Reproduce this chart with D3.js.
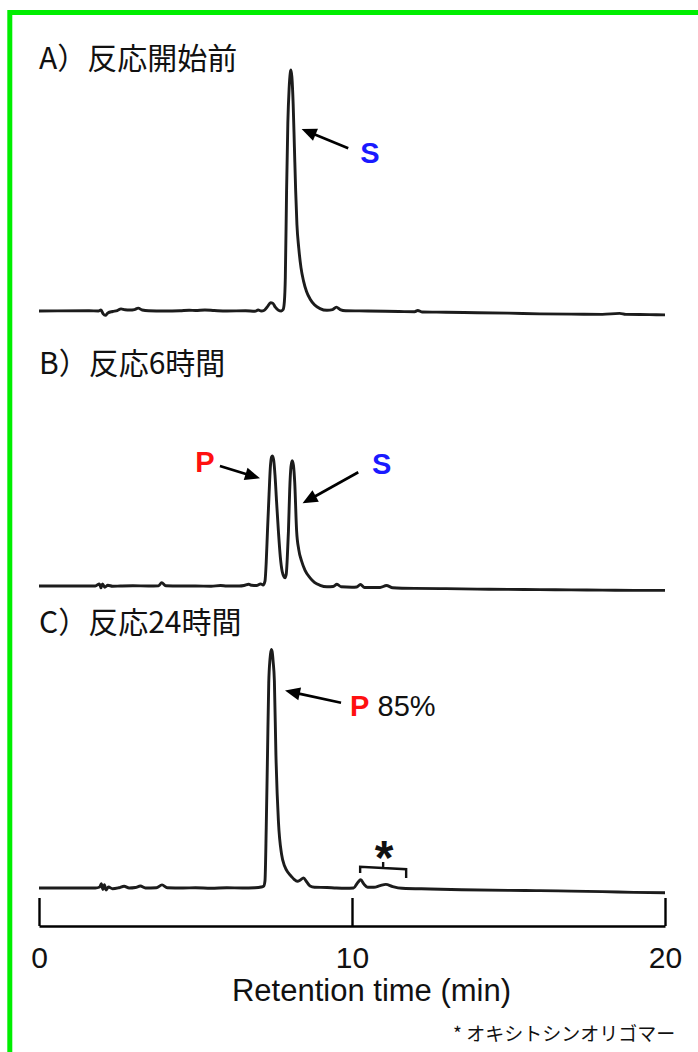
<!DOCTYPE html>
<html><head><meta charset="utf-8">
<script src="https://cdn.jsdelivr.net/npm/d3@7"></script>
<style>html,body{margin:0;padding:0;background:#fff;} svg{display:block}</style>
</head><body>
<script>
// ---------- DATA ----------
const panelTitles = ["A）反応開始前", "B）反応6時間", "C）反応24時間"];
const xTicks = [0, 10, 20];
const axisTitle = "Retention time (min)";
const footnote = "* オキシトシンオリゴマー";

// [retention time (min), signal (relative, A main peak = 100)]
const traceA = [[0,0],[1.6,0.1],[1.9,0],[1.98,0.4],[2.05,-1.2],[2.12,-1.8],[2.2,-0.8],[2.35,-0.2],[2.5,0.2],[2.62,0.9],[2.75,0.5],[2.9,0.4],[3.05,0.6],[3.17,1.2],[3.3,0.4],[3.5,0.1],[4.0,0],[4.5,0.1],[4.8,0.3],[5.0,0.2],[5.3,0.4],[5.6,0.2],[6.0,0],[6.6,0.1],[6.9,-0.1],[7.0,0.4],[7.1,0.0],[7.2,0.3],[7.3,1.8],[7.4,3.4],[7.47,3.2],[7.55,1.6],[7.65,0.3],[7.74,0.0],[7.8,0.6],[7.84,4],[7.87,14],[7.91,50],[7.95,78],[7.99,92],[8.03,99],[8.05,100],[8.08,97],[8.12,86],[8.16,68],[8.2,50],[8.24,36],[8.3,26],[8.37,18],[8.45,12.5],[8.55,8],[8.66,5],[8.8,2.6],[8.98,1],[9.2,0.3],[9.38,0.6],[9.5,1.6],[9.62,0.6],[9.8,0.1],[10.5,0],[11.5,-0.2],[12.0,-0.3],[12.1,0.2],[12.25,-0.4],[13,-0.5],[14,-0.7],[15,-0.9],[16,-1.2],[17,-1.3],[18,-1.4],[18.55,-1.0],[18.75,-1.4],[19.5,-1.5],[20,-1.6]];

const traceB = [[0,0],[1.8,0],[1.93,0.9],[1.98,-0.7],[2.03,0.9],[2.1,-0.5],[2.2,0.3],[2.35,-0.1],[2.6,0],[3.0,0.1],[3.5,0],[3.82,0.1],[3.92,1.4],[4.05,0.1],[4.5,0],[5.0,0],[5.5,-0.1],[5.8,0.2],[6.0,0],[6.4,0],[6.55,0.2],[6.7,0.7],[6.8,0.3],[6.95,0.2],[7.08,0.9],[7.16,0.4],[7.22,2],[7.26,10],[7.30,23],[7.35,38],[7.39,49],[7.43,53.5],[7.46,54],[7.50,52],[7.54,46],[7.59,35],[7.65,22.5],[7.71,12],[7.77,6],[7.82,4],[7.86,3.4],[7.9,5],[7.93,11],[7.97,23],[8.01,40],[8.05,49.5],[8.09,52],[8.13,50],[8.17,43],[8.23,23],[8.3,15],[8.39,10.3],[8.5,6.5],[8.66,3.4],[8.8,1.5],[8.98,0.3],[9.2,-0.3],[9.4,-0.2],[9.52,0.7],[9.65,-0.3],[10.0,-0.5],[10.15,-0.4],[10.27,0.6],[10.4,-0.6],[10.9,-0.6],[11.1,0.2],[11.3,-0.7],[12,-1.0],[13,-1.1],[14,-1.3],[15,-1.4],[16,-1.5],[17,-1.6],[18,-1.7],[19,-1.8],[20,-1.8]];

const traceC = [[0,0],[1.8,0],[1.94,0.4],[1.99,1.8],[2.04,-0.6],[2.09,1.4],[2.14,-0.8],[2.22,0.4],[2.35,-0.3],[2.55,0.1],[2.72,0.7],[2.88,0],[3.08,0.2],[3.24,0.8],[3.4,0],[3.75,0.1],[3.93,1.3],[4.1,0.1],[4.6,0],[5.0,0.1],[5.5,-0.1],[6.0,0.1],[6.5,0],[6.9,0.1],[7.1,0.4],[7.18,0.8],[7.22,3],[7.26,25],[7.30,55],[7.34,85],[7.38,95],[7.42,99],[7.45,98],[7.48,94],[7.52,86],[7.57,55],[7.65,27.5],[7.75,14],[7.85,9],[7.95,6.5],[8.05,5],[8.15,3.6],[8.25,2.8],[8.35,3.3],[8.45,4.2],[8.55,2.6],[8.66,0.8],[8.8,0.3],[9.2,0.2],[9.5,0],[9.8,-0.1],[10.05,0],[10.18,2.2],[10.28,3.4],[10.38,1.6],[10.5,0.3],[10.7,0.3],[10.9,1.0],[11.08,1.5],[11.3,0.6],[11.6,-0.1],[12.5,-0.4],[13.5,-0.7],[15,-1.0],[16,-1.1],[17,-1.3],[18,-1.5],[19,-1.8],[20,-2.0]];

const traces = [traceA, traceB, traceC];

// annotations, anchored in data space (time, signal)
const labelsA = [{text:"S", kind:"S", at:[10.575,61.4], from:[9.88,67.5], to:[8.39,75.5]}];
const labelsB = [{text:"P", kind:"P", at:[5.30,47.5], from:[5.78,49.8], to:[7.06,44.7]},
                 {text:"S", kind:"S", at:[10.95,46.5], from:[10.20,47.2], to:[8.42,34.3]}];
const labelsC = [{text:"P", kind:"P", at:[9.94,71.4], from:[9.65,76.9], to:[7.86,81.9], extra:" 85%"}];
const panelLabels = [labelsA, labelsB, labelsC];
const oligomerRange = [10.26, 11.73]; // bracket (min)

// ---------- LAYOUT ----------
const W = 698, H = 1052;
const baselines = [311, 586, 888];
const unitPx = 2.41;
const titleBaselines = [69, 374, 633];
const colors = {S:"#1a1aff", P:"#ff1010"};

const svg = d3.select("body").append("svg").attr("width", W).attr("height", H);
svg.append("rect").attr("width", W).attr("height", H).attr("fill", "#fff");
svg.append("path").attr("d", "M9.8,1070V12.5H720").attr("fill","none")
   .attr("stroke","#00ee00").attr("stroke-width",5);

const x = d3.scaleLinear().domain([0, 20]).range([39, 665]);

traces.forEach((tr, i) => {
  const b = baselines[i];
  const y = d3.scaleLinear().domain([0, 100]).range([b, b - 100*unitPx]);
  const g = svg.append("g");
  g.append("text").attr("x", 39).attr("y", titleBaselines[i])
    .attr("font-family", "'Noto Sans CJK JP', sans-serif").attr("font-size", 30)
    .attr("fill", "#111").text(panelTitles[i]);
  const line = d3.line().x(d => x(d[0])).y(d => y(d[1])).curve(d3.curveMonotoneX);
  g.append("path").datum(tr).attr("d", line).attr("fill","none")
    .attr("stroke","#1c1c1c").attr("stroke-width",2.9).attr("stroke-linejoin","round");

  panelLabels[i].forEach(a => {
    const x1 = x(a.from[0]), y1 = y(a.from[1]), x2 = x(a.to[0]), y2 = y(a.to[1]);
    const ang = Math.atan2(y2 - y1, x2 - x1);
    const hl = 15, hw = 6.5;
    const bx = x2 - hl*Math.cos(ang), by = y2 - hl*Math.sin(ang);
    g.append("line").attr("x1",x1).attr("y1",y1).attr("x2",bx+2*Math.cos(ang)).attr("y2",by+2*Math.sin(ang))
      .attr("stroke","#000").attr("stroke-width",2.6);
    const px = -Math.sin(ang), py = Math.cos(ang);
    g.append("path").attr("d", `M${x2},${y2}L${bx+hw*px},${by+hw*py}L${bx-hw*px},${by-hw*py}Z`).attr("fill","#000");
    const t = g.append("text").attr("x", x(a.at[0])).attr("y", y(a.at[1]))
      .attr("font-family","'Liberation Sans', Arial, sans-serif").attr("font-size",29)
      .attr("text-anchor", a.extra ? "start" : "middle");
    t.append("tspan").attr("font-weight","bold").attr("fill", colors[a.kind]).text(a.text);
    if (a.extra) t.append("tspan").attr("fill","#111").text(a.extra);
  });

  if (i === 2) {
    const [r0, r1] = oligomerRange;
    const mid = (r0 + r1) / 2;
    g.append("path").attr("d",
      `M${x(r0)},${y(6.2)}L${x(r0)},${y(8.8)}L${x(r1)},${y(7.8)}L${x(r1)},${y(4.1)}M${x(mid)},${y(8.3)}L${x(mid)},${y(10.8)}`)
      .attr("fill","none").attr("stroke","#111").attr("stroke-width",2.4);
    g.append("text").attr("x", x(mid)+1).attr("y", y(6.0)).attr("text-anchor","middle")
      .attr("font-family","'Liberation Sans', Arial, sans-serif").attr("font-weight","bold")
      .attr("font-size",48).attr("fill","#111").text("*");
  }
});

// axis
const ax = svg.append("g").attr("transform","translate(0,926)")
  .call(d3.axisBottom(x).tickValues(xTicks).tickFormat(d3.format("d"))
        .tickSizeInner(-28).tickSizeOuter(0).tickPadding(21));
ax.select(".domain").attr("stroke","#000").attr("stroke-width",2.4);
ax.selectAll(".tick line").attr("stroke","#000").attr("stroke-width",2.4);
ax.selectAll(".tick text").attr("font-family","'Liberation Sans', Arial, sans-serif")
  .attr("font-size",30).attr("fill","#111");

svg.append("text").attr("x",371.5).attr("y",1001).attr("text-anchor","middle")
  .attr("font-family","'Liberation Sans', Arial, sans-serif").attr("font-size",31)
  .attr("fill","#111").text(axisTitle);

svg.append("text").attr("x",453).attr("y",1041)
  .attr("font-family","'Noto Sans CJK JP', sans-serif").attr("font-size",19)
  .attr("fill","#111").text(footnote);
</script>
</body></html>
